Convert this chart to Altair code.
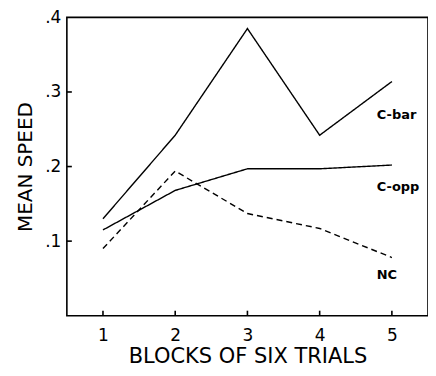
import altair as alt
import pandas as pd

blocks = [1, 2, 3, 4, 5]
c_bar = [0.130, 0.242, 0.385, 0.242, 0.314]
c_opp = [0.115, 0.168, 0.197, 0.197, 0.202]
nc = [0.090, 0.194, 0.137, 0.117, 0.078]

series_names = ["C-bar", "C-opp", "NC"]
label_x = [4.79, 4.79, 4.79]
label_y = [0.269, 0.172, 0.055]

y_ticks = [0.1, 0.2, 0.3, 0.4]
x_ticks = [1, 2, 3, 4, 5]

rows = []
for name, vals in zip(series_names, [c_bar, c_opp, nc]):
    for b, v in zip(blocks, vals):
        rows.append({"block": b, "speed": v, "series": name})
df = pd.DataFrame(rows)
labels = pd.DataFrame({"series": series_names, "x": label_x, "y": label_y})

W, H = 362, 299
FONT = "DejaVu Sans"

xscale = alt.Scale(domain=[0.5, 5.5], nice=False, zero=False)
yscale = alt.Scale(domain=[0, 0.4], nice=False)

lines = alt.Chart(df).mark_line(color="black", strokeWidth=1.4).encode(
    x=alt.X("block:Q", scale=xscale,
            axis=alt.Axis(values=x_ticks, format="d", title="BLOCKS OF SIX TRIALS", ticks=False,
                          grid=False, domain=False, labelFontSize=17, labelPadding=12,
                          titleFontSize=21, titleFontWeight="normal", titlePadding=2,
                          labelColor="black", titleColor="black", labelFont=FONT, titleFont=FONT)),
    y=alt.Y("speed:Q", scale=yscale,
            axis=alt.Axis(values=y_ticks, title="MEAN SPEED", ticks=False, grid=False,
                          domain=False, format=".1f",
                          labelExpr="replace(datum.label, '0.', '.')",
                          labelFontSize=17, labelPadding=6, titleFontSize=20,
                          titleFontWeight="normal", titlePadding=9,
                          labelColor="black", titleColor="black", labelFont=FONT, titleFont=FONT)),
    strokeDash=alt.StrokeDash("series:N",
                              scale=alt.Scale(domain=series_names, range=[[1, 0], [1, 0], [6, 4]]),
                              legend=None),
    detail="series:N",
)

text = alt.Chart(labels).mark_text(align="left", baseline="middle", fontSize=13,
                                    fontWeight="bold", font=FONT, color="black").encode(
    x=alt.X("x:Q", scale=xscale), y=alt.Y("y:Q", scale=yscale), text="series:N")

# inward ticks drawn as short rules from the axes
xt = alt.Chart(pd.DataFrame({"t": x_ticks})).mark_rule(color="black", strokeWidth=1.6).encode(
    x=alt.X("t:Q", scale=xscale), y=alt.value(H), y2=alt.value(H - 5))
yt = alt.Chart(pd.DataFrame({"t": y_ticks[:-1]})).mark_rule(color="black", strokeWidth=1.6).encode(
    y=alt.Y("t:Q", scale=yscale), x=alt.value(0), x2=alt.value(5))

chart = alt.layer(lines, text, xt, yt).properties(
    width=W, height=H, background="white",
    padding={"left": 7, "top": 0, "right": 0, "bottom": 0},
).configure_view(stroke="black", strokeWidth=1.6)

chart.save("out.html", embed_options={"renderer": "svg", "actions": False})
